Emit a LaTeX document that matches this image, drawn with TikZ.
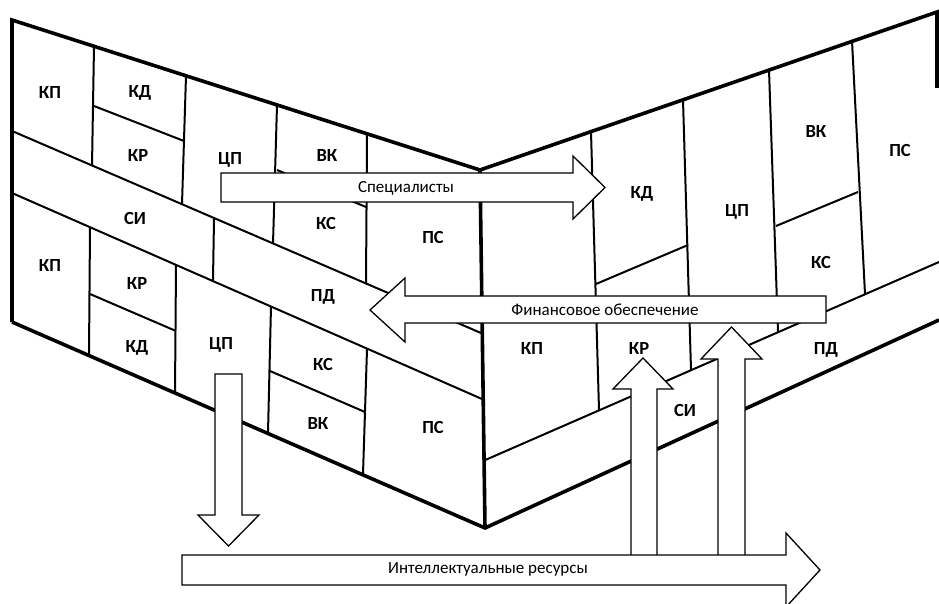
\documentclass[tikz,border=0pt]{standalone}
\usepackage{fontspec}
\setmainfont{Carlito}
\begin{document}
\begin{tikzpicture}[x=1pt,y=-1pt,
  wall/.style={line width=3.6pt, line join=miter},
  cell/.style={line width=2pt},
  blockarrow/.style={draw=black, fill=white, line width=1.3pt, line join=miter},
  lbl/.style={font=\bfseries\fontsize{18.5}{18.5}\selectfont, inner sep=0pt},
  alabel/.style={font=\fontsize{17}{17}\selectfont, inner sep=0pt}]
\useasboundingbox (0,0) rectangle (939,604);

% ---------- corner points of the two walls ----------
\coordinate (TL) at (12,20);
\coordinate (VT) at (480,170);
\coordinate (LB) at (12,322);
\coordinate (VB) at (485,528);
\coordinate (RT) at (937,12);
\coordinate (RE) at (937,88);
\coordinate (RB) at (939,320);

% ---------- left wall: band ----------
\draw[cell] (12,131) -- (481,333);
\draw[cell] (12,193) -- (482,399);
\draw[cell] (214,219) -- (213,280);
% upper cells
\draw[cell] (94,46) -- (92,166);
\draw[cell] (186,76) -- (182,204);
\draw[cell] (277,105) -- (273,244);
\draw[cell] (367,134) -- (366,284);
\draw[cell] (94,106) -- (184,141);
\draw[cell] (277,170) -- (366,207);
% lower cells
\draw[cell] (90,227) -- (89,355);
\draw[cell] (176,265) -- (175,393);
\draw[cell] (271,306) -- (268,433);
\draw[cell] (367,349) -- (363,474);
\draw[cell] (90,294) -- (176,331);
\draw[cell] (270,371) -- (365,412);

% ---------- right wall ----------
\draw[cell] (483,461) -- (939,262);
\draw[cell] (591,132) -- (599,410);
\draw[cell] (683,100) -- (691,370);
\draw[cell] (769,70) -- (778,332);
\draw[cell] (852,41) -- (865,294);
\draw[cell] (596,284) -- (688,245);
\draw[cell] (776,226) -- (858,192);

% ---------- thick outline ----------
\draw[wall] (LB) -- (TL) -- (VT) -- (RT) -- (RE);
\draw[wall] (VT) -- (VB);
\draw[wall] (LB) -- (VB) -- (RB);

% ---------- labels, left wall ----------
\node[lbl] (l1) at (50,93) {КП};
\node[lbl] (l2) at (140,93) {КД};
\node[lbl] (l3) at (138,156) {КР};
\node[lbl] (l4) at (230,160) {ЦП};
\node[lbl] (l5) at (327,156) {ВК};
\node[lbl] (l6) at (326,223) {КС};
\node[lbl] (l7) at (433,237) {ПС};
\node[lbl] (l8) at (135,218) {СИ};
\node[lbl] (l9) at (323,297) {ПД};
\node[lbl] (l10) at (50,266) {КП};
\node[lbl] (l11) at (137,284) {КР};
\node[lbl] (l12) at (137,348) {КД};
\node[lbl] (l13) at (221,345) {ЦП};
\node[lbl] (l14) at (323,364) {КС};
\node[lbl] (l15) at (318,423) {ВК};
\node[lbl] (l16) at (433,427) {ПС};

% ---------- labels, right wall ----------
\node[lbl] (r1) at (642,194) {КД};
\node[lbl] (r2) at (737,212) {ЦП};
\node[lbl] (r3) at (816,132) {ВК};
\node[lbl] (r4) at (821,262) {КС};
\node[lbl] (r5) at (900,150) {ПС};
\node[lbl] (r6) at (532,349) {КП};
\node[lbl] (r7) at (639,349) {КР};
\node[lbl] (r8) at (685,410) {СИ};
\node[lbl] (r9) at (826,350) {ПД};

% ---------- block arrows ----------
\draw[blockarrow] (221,173) -- (573,173) -- (573,156) -- (605,187.5) -- (573,219) -- (573,202) -- (221,202) -- cycle;
\node[alabel] (spec) at (406,188) {Специалисты};

\draw[blockarrow] (826,296) -- (405,296) -- (405,278) -- (370,310) -- (405,342) -- (405,323) -- (826,323) -- cycle;
\node[alabel] (fin) at (605,310) {Финансовое обеспечение};

\draw[blockarrow] (215,374) -- (242,374) -- (242,515) -- (259,515) -- (228.5,546) -- (198,515) -- (215,515) -- cycle;

\draw[blockarrow] (631,556) -- (631,389) -- (613,389) -- (643,358) -- (673,389) -- (657,389) -- (657,556) -- cycle;
\draw[blockarrow] (718,556) -- (718,359) -- (701,359) -- (731.5,327) -- (762,359) -- (745,359) -- (745,556) -- cycle;

\draw[blockarrow] (182,555) -- (786,555) -- (786,533) -- (820,570) -- (786,607) -- (786,585) -- (182,585) -- cycle;
\node[alabel] (intel) at (488,569) {Интеллектуальные ресурсы};
\end{tikzpicture}
\end{document}
